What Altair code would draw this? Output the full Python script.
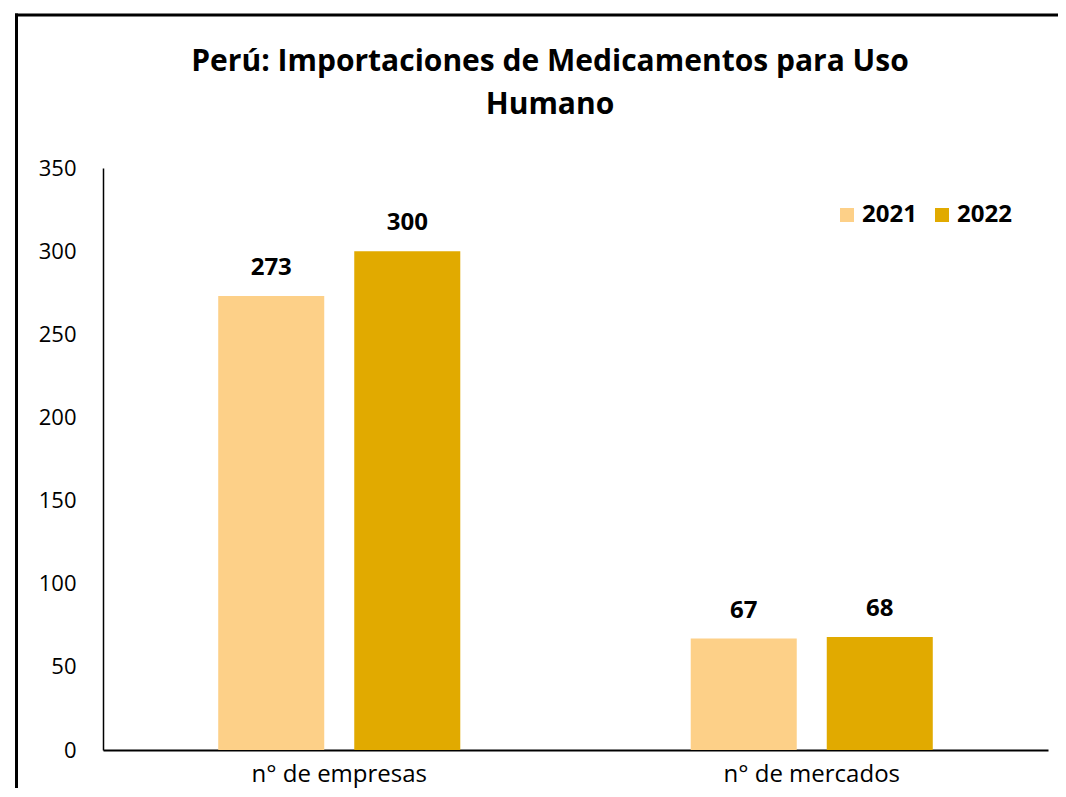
import altair as alt
import pandas as pd

categories = ["n° de empresas", "n° de mercados"]
years = ["2021", "2022"]
values_2021 = [273, 67]
values_2022 = [300, 68]
title_lines = ["Perú: Importaciones de Medicamentos para Uso", "Humano"]
y_ticks = [0, 50, 100, 150, 200, 250, 300, 350]
colors = ["#FDD088", "#E1AA00"]

rows = []
for i, c in enumerate(categories):
    rows.append({"cat": c, "year": years[0], "value": values_2021[i]})
    rows.append({"cat": c, "year": years[1], "value": values_2022[i]})
df = pd.DataFrame(rows)

FONT = "Open Sans"
W, H = 945, 582

x = alt.X("cat:N", sort=categories,
          scale=alt.Scale(paddingInner=0, paddingOuter=0),
          axis=alt.Axis(title=None, labelAngle=0, labelFontSize=24, labelColor="black",
                        labelFont=FONT, domainColor="black", domainWidth=2,
                        ticks=False, labelPadding=12))
xo = alt.XOffset("year:N", sort=years,
                 scale=alt.Scale(paddingInner=0.2206, paddingOuter=0.847))
y = alt.Y("value:Q", scale=alt.Scale(domain=[0, 350], nice=False),
          axis=alt.Axis(title=None, values=y_ticks, grid=False, ticks=False,
                        labelPadding=27, domainColor="black", domainWidth=1.5,
                        labelFontSize=22, labelColor="black", labelFont=FONT))
color = alt.Color("year:N",
                  scale=alt.Scale(domain=years, range=colors),
                  legend=alt.Legend(title=None, orient="none", legendX=732, legendY=35,
                                    direction="horizontal", symbolType="square",
                                    symbolSize=196, symbolStrokeWidth=0,
                                    labelFontSize=24, labelFontWeight="bold",
                                    labelFont=FONT, labelColor="black",
                                    columnPadding=13, labelOffset=3))

bars = alt.Chart(df).mark_bar().encode(x=x, xOffset=xo, y=y, color=color)
labels = alt.Chart(df).mark_text(baseline="bottom", dy=-16, fontSize=24,
                                  fontWeight="bold", font=FONT, color="black").encode(
    x=x, xOffset=xo, y=y, text="value:Q")

tdf = pd.DataFrame({"line": title_lines, "yy": [-106, -63]})
title = alt.Chart(tdf).mark_text(fontSize=30, fontWeight="bold", font=FONT,
                                 color="black", baseline="middle", align="center").encode(
    x=alt.value(447), y=alt.Y("yy:Q", scale=None), text="line:N")

one = pd.DataFrame({"a": [0]})
left_border = alt.Chart(one).mark_rule(color="black", strokeWidth=3).encode(
    x=alt.value(-86.5), y=alt.value(-154.5), y2=alt.value(700))
top_border = alt.Chart(one).mark_rule(color="black", strokeWidth=3).encode(
    x=alt.value(-88), x2=alt.value(1100), y=alt.value(-153))

chart = alt.layer(bars, labels, title, left_border, top_border).properties(
    width=W, height=H,
    background="white",
    autosize=alt.AutoSizeParams(type="none"),
    padding={"left": 95, "top": 160, "right": 10, "bottom": 38},
).configure_view(strokeWidth=0, stroke=None)

chart.save("out.html", embed_options={"renderer": "svg", "actions": False})
